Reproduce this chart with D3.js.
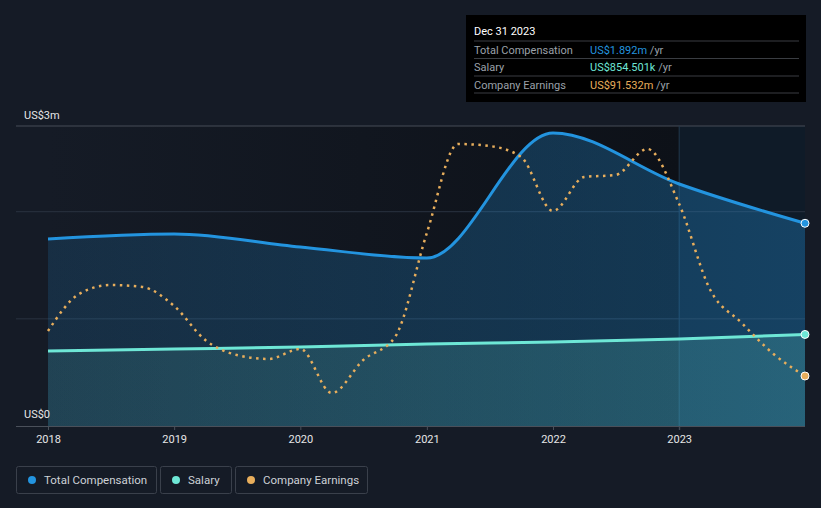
<!DOCTYPE html>
<html>
<head>
<meta charset="utf-8">
<script src="https://cdn.jsdelivr.net/npm/d3@7"></script>
<style>
  html, body { margin: 0; padding: 0; background: #151b26; }
  svg { display: block; font-family: Roboto, "Open Sans", sans-serif; }
</style>
</head>
<body>
<svg id="chart" width="821" height="508"></svg>
<script>
// ---- data ----
const compDates = ["2018-01-01", "2019-01-01", "2020-01-01", "2021-01-01", "2022-01-01", "2023-01-01", "2023-12-31"];
const totalComp = [1.745, 1.792, 1.671, 1.568, 2.735, 2.259, 1.892];   // US$m
const salary    = [0.700, 0.719, 0.737, 0.765, 0.784, 0.812, 0.8545];  // US$m

const earnDates = ["2018-01-01", "2018-04-01", "2018-07-01", "2018-10-01",
                   "2019-01-01", "2019-04-01", "2019-07-01", "2019-10-01",
                   "2020-01-01", "2020-04-01", "2020-07-01", "2020-10-01",
                   "2021-01-01", "2021-04-01", "2021-07-01", "2021-10-01",
                   "2022-01-01", "2022-04-01", "2022-07-01", "2022-10-01",
                   "2023-01-01", "2023-04-01", "2023-07-01", "2023-10-01", "2023-12-31"];
const earnings = [173.9, 241.6, 258.1, 254.5,
                  219.7, 157.4, 130.0, 122.7,
                  141.0, 60.4, 120.8, 162.9,
                  353.3, 516.2, 512.6, 492.4,
                  393.6, 455.8, 459.5, 507.1,
                  406.4, 249.0, 188.6, 131.8, 91.532]; // US$m

const yearTicks = [2018, 2019, 2020, 2021, 2022, 2023];
const yLabels = ["US$0", "US$3m"];
const legendItems = ["Total Compensation", "Salary", "Company Earnings"];
const tooltipTitle = "Dec 31 2023";
const tooltipRows = [
  ["Total Compensation", "US$1.892m", " /yr"],
  ["Salary", "US$854.501k", " /yr"],
  ["Company Earnings", "US$91.532m", " /yr"]
];

// ---- styles ----
const BG = "#151b26";
const BLUE = "#2394df";
const TEAL = "#6ee7d6";
const ORANGE = "#e8ae5c";

const parse = d3.timeParse("%Y-%m-%d");
const comp = compDates.map((d, i) => ({ date: parse(d), total: totalComp[i], salary: salary[i] }));
const earn = earnDates.map((d, i) => ({ date: parse(d), v: earnings[i] }));

const svg = d3.select("#chart");
const pLeft = 48, pRight = 805, pTop = 126, pBottom = 426;

const x = d3.scaleTime().domain([parse("2018-01-01"), parse("2023-12-31")]).range([pLeft, pRight]);
const y = d3.scaleLinear().domain([0, 2.8]).range([pBottom, pTop]);
const y2 = d3.scaleLinear().domain([0, 549.2]).range([pBottom, pTop]);
const xHL = x(parse("2023-01-01"));

const defs = svg.append("defs");
const g1 = defs.append("linearGradient").attr("id", "darkBand").attr("x1", "0").attr("x2", "1").attr("y1", "0").attr("y2", "0");
g1.append("stop").attr("offset", "0%").attr("stop-color", BG).attr("stop-opacity", 1);
g1.append("stop").attr("offset", "100%").attr("stop-color", "#0d1118").attr("stop-opacity", 1);

const gBlue = defs.append("linearGradient").attr("id", "blueFill").attr("x1", "0").attr("x2", "1").attr("y1", "0").attr("y2", "0");
gBlue.append("stop").attr("offset", "0%").attr("stop-color", BLUE).attr("stop-opacity", 0.16);
gBlue.append("stop").attr("offset", "100%").attr("stop-color", BLUE).attr("stop-opacity", 0.32);

const gTeal = defs.append("linearGradient").attr("id", "tealFill").attr("x1", "0").attr("x2", "1").attr("y1", "0").attr("y2", "0");
gTeal.append("stop").attr("offset", "0%").attr("stop-color", TEAL).attr("stop-opacity", 0.11);
gTeal.append("stop").attr("offset", "100%").attr("stop-color", TEAL).attr("stop-opacity", 0.2);

// background bands
svg.append("rect").attr("x", pLeft).attr("y", pTop).attr("width", xHL - pLeft).attr("height", pBottom - pTop)
  .attr("fill", "url(#darkBand)");
svg.append("rect").attr("x", xHL).attr("y", pTop).attr("width", pRight - xHL).attr("height", pBottom - pTop)
  .attr("fill", "#0f1b28");

// gridlines
[1, 2].forEach(v => {
  svg.append("line").attr("x1", 16).attr("x2", pRight).attr("y1", y(v)).attr("y2", y(v))
    .attr("stroke", "#2a3340").attr("stroke-width", 1);
});
svg.append("line").attr("x1", 16).attr("x2", pRight).attr("y1", pTop).attr("y2", pTop)
  .attr("stroke", "#474d57").attr("stroke-width", 1);

// vertical divider at last year
svg.append("line").attr("x1", xHL).attr("x2", xHL)
  .attr("y1", pTop).attr("y2", pBottom + 4).attr("stroke", "#22384c").attr("stroke-width", 1);

const curve = d3.curveMonotoneX;

// areas
svg.append("path").datum(comp)
  .attr("d", d3.area().x(d => x(d.date)).y0(pBottom).y1(d => y(d.total)).curve(curve))
  .attr("fill", "url(#blueFill)");
svg.append("path").datum(comp)
  .attr("d", d3.area().x(d => x(d.date)).y0(pBottom).y1(d => y(d.salary)).curve(curve))
  .attr("fill", "url(#tealFill)");

// lines
svg.append("path").datum(comp)
  .attr("d", d3.line().x(d => x(d.date)).y(d => y(d.total)).curve(curve))
  .attr("fill", "none").attr("stroke", BLUE).attr("stroke-width", 3);
svg.append("path").datum(comp)
  .attr("d", d3.line().x(d => x(d.date)).y(d => y(d.salary)).curve(curve))
  .attr("fill", "none").attr("stroke", TEAL).attr("stroke-width", 3);
svg.append("path").datum(earn)
  .attr("d", d3.line().x(d => x(d.date)).y(d => y2(d.v)).curve(curve))
  .attr("fill", "none").attr("stroke", ORANGE).attr("stroke-width", 2.5)
  .attr("stroke-dasharray", "2.5,4.5").attr("stroke-linecap", "butt");

// baseline axis
svg.append("line").attr("x1", 16).attr("x2", pRight).attr("y1", pBottom + 0.5).attr("y2", pBottom + 0.5)
  .attr("stroke", "#4a505a").attr("stroke-width", 1);

const xAxis = d3.axisBottom(x)
  .tickValues(yearTicks.map(yr => new Date(yr, 0, 1)))
  .tickFormat(d3.timeFormat("%Y"))
  .tickSize(4).tickPadding(5);
const ax = svg.append("g").attr("transform", `translate(0,${pBottom})`).call(xAxis);
ax.select(".domain").remove();
ax.selectAll(".tick line").attr("stroke", "#4a505a");
ax.selectAll(".tick text").attr("fill", "#e6e6e6").attr("font-size", 11).attr("font-family", "Roboto, sans-serif");

// y labels
svg.append("text").attr("x", 24).attr("y", 418).attr("fill", "#e6e6e6").attr("font-size", 11).text(yLabels[0]);
svg.append("text").attr("x", 24).attr("y", 119).attr("fill", "#e6e6e6").attr("font-size", 11).text(yLabels[1]);

// end dots
const last = comp[comp.length - 1], lastE = earn[earn.length - 1];
[[y(last.total), BLUE], [y(last.salary), TEAL], [y2(lastE.v), ORANGE]].forEach(([cy, c]) => {
  svg.append("circle").attr("cx", x(last.date)).attr("cy", cy).attr("r", 4)
    .attr("fill", c).attr("stroke", "#ffffff").attr("stroke-width", 1);
});

// tooltip
const tt = svg.append("g").attr("transform", "translate(466,15)");
tt.append("rect").attr("width", 340).attr("height", 87).attr("fill", "#000000");
tt.append("text").attr("x", 8).attr("y", 20).attr("fill", "#ffffff").attr("font-size", 11).text(tooltipTitle);
[26, 43.5, 61, 78].forEach(yy => {
  tt.append("line").attr("x1", 8).attr("x2", 333).attr("y1", yy).attr("y2", yy).attr("stroke", "#3a3d42").attr("stroke-width", 1);
});
const valColors = [BLUE, TEAL, ORANGE];
tooltipRows.forEach((r, i) => {
  const ty = 38.5 + i * 17.5;
  tt.append("text").attr("x", 8).attr("y", ty).attr("fill", "#9ba1a9").attr("font-size", 11).text(r[0]);
  const t = tt.append("text").attr("x", 124).attr("y", ty).attr("font-size", 11);
  t.append("tspan").attr("fill", valColors[i]).text(r[1]);
  t.append("tspan").attr("fill", "#9ba1a9").text(r[2]);
});

// legend
const legendBoxes = [[16, 140], [160, 71], [235, 132]];
legendItems.forEach((name, i) => {
  const [lx, w] = legendBoxes[i];
  const lg = svg.append("g").attr("transform", `translate(${lx},466)`);
  lg.append("rect").attr("x", 0.5).attr("y", 0.5).attr("width", w).attr("height", 27).attr("rx", 2)
    .attr("fill", "none").attr("stroke", "#3a404b");
  lg.append("circle").attr("cx", 16).attr("cy", 14).attr("r", 4).attr("fill", valColors[i]);
  lg.append("text").attr("x", 28).attr("y", 18).attr("fill", "#cdd1d6").attr("font-size", 11.5).text(name);
});
</script>
</body>
</html>
